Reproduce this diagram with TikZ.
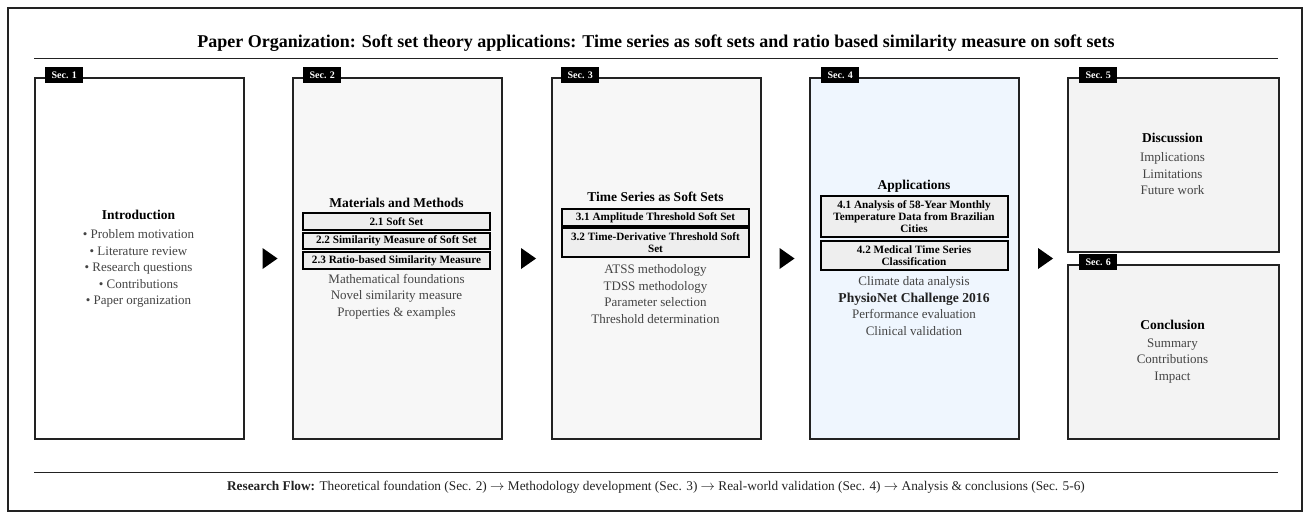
\documentclass[tikz,border=0pt]{standalone}
\usepackage{fontspec}
\setmainfont{Liberation Serif}
\usetikzlibrary{shapes.geometric}
\definecolor{framec}{HTML}{222222}
\definecolor{itemc}{HTML}{444444}
\definecolor{fillA}{HTML}{F7F7F7}
\definecolor{fillB}{HTML}{F3F3F3}
\definecolor{fillC}{HTML}{EFF6FE}
\definecolor{subfill}{HTML}{EEEEEE}
\tikzset{
  secbox/.style={draw=framec, line width=2pt, anchor=north west, minimum width=209pt, inner sep=0pt},
  sectag/.style={fill=black, text=white, font=\fontsize{10}{11}\selectfont\bfseries, minimum width=38pt, minimum height=16pt, inner sep=0pt, anchor=west},
  head/.style={font=\fontsize{13.5}{15}\selectfont\bfseries, inner sep=0pt},
  item/.style={font=\fontsize{13}{16.5}\selectfont, text=itemc, align=center, inner sep=0pt},
  subbox/.style={draw=black, line width=2pt, fill=subfill, minimum width=187pt, inner sep=0pt, align=center, font=\fontsize{11.2}{12}\selectfont\bfseries},
  tri/.style={isosceles triangle, fill=black, inner sep=0pt, minimum width=19pt, minimum height=15pt, isosceles triangle apex angle=70},
}
\begin{document}
\begin{tikzpicture}[x=1pt,y=-1pt]
\useasboundingbox (0,0) rectangle (1314,515);
\node[draw=framec, line width=2pt, anchor=north west, minimum width=1294pt, minimum height=503pt, inner sep=0pt] (frame) at (7,7) {};
\node[font=\fontsize{18}{20}\selectfont\bfseries] (title) at (656,43) {Paper Organization: Soft set theory applications: Time series as soft sets and ratio based similarity measure on soft sets};
\coordinate (tl1) at (34,58); \coordinate (tl2) at (1278,58);
\draw[framec, line width=1pt] (tl1) -- (tl2);

% boxes
\node[secbox, fill=white, minimum height=361pt] (s1) at (34,77) {};
\node[secbox, fill=fillA, minimum height=361pt] (s2) at (292,77) {};
\node[secbox, fill=fillA, minimum height=361pt] (s3) at (551,77) {};
\node[secbox, fill=fillC, minimum height=361pt] (s4) at (809,77) {};
\node[secbox, fill=fillB, minimum height=174pt, minimum width=211pt] (s5) at (1067,77) {};
\node[secbox, fill=fillB, minimum height=174pt, minimum width=211pt] (s6) at (1067,264) {};

% tags
\node[sectag] (t1) at (45,75) {Sec. 1};
\node[sectag] (t2) at (303,75) {Sec. 2};
\node[sectag] (t3) at (561,75) {Sec. 3};
\node[sectag] (t4) at (821,75) {Sec. 4};
\node[sectag] (t5) at (1079,75) {Sec. 5};
\node[sectag] (t6) at (1079,262) {Sec. 6};

% arrows
\node[tri] (a1) at (268,258.5) {};
\node[tri] (a2) at (526.5,258.5) {};
\node[tri] (a3) at (785,258.5) {};
\node[tri] (a4) at (1043.5,258.5) {};

% Sec 1
\node[head] (h1) at (138.5,215) {Introduction};
\node[item] (i1) at (138.5,268.5) {• Problem motivation\\• Literature review\\• Research questions\\• Contributions\\• Paper organization};

% Sec 2
\node[head] (h2) at (396.5,203) {Materials and Methods};
\node[subbox, minimum height=17pt] (b21) at (396.5,221.5) {2.1 Soft Set};
\node[subbox, minimum height=16pt] (b22) at (396.5,241) {2.2 Similarity Measure of Soft Set};
\node[subbox, minimum height=17pt] (b23) at (396.5,260.5) {2.3 Ratio-based Similarity Measure};
\node[item] (i2) at (396.5,296.5) {Mathematical foundations\\Novel similarity measure\\Properties \& examples};

% Sec 3
\node[head] (h3) at (655.5,197) {Time Series as Soft Sets};
\node[subbox, minimum height=17pt] (b31) at (655.5,217.5) {3.1 Amplitude Threshold Soft Set};
\node[subbox, minimum height=29pt] (b32) at (655.5,242.5) {3.2 Time-Derivative Threshold Soft\\Set};
\node[item] (i3) at (655.5,294) {ATSS methodology\\TDSS methodology\\Parameter selection\\Threshold determination};

% Sec 4
\node[head] (h4) at (914,186) {Applications};
\node[subbox, minimum height=41pt] (b41) at (914,216.5) {4.1 Analysis of 58-Year Monthly\\Temperature Data from Brazilian\\Cities};
\node[subbox, minimum height=29pt] (b42) at (914,255.5) {4.2 Medical Time Series\\Classification};
\node[item] (i4) at (914,306) {Climate data analysis\\{\fontsize{13.6}{16.5}\selectfont\bfseries\color{framec}PhysioNet Challenge 2016}\\Performance evaluation\\Clinical validation};

% Sec 5
\node[head] (h5) at (1172.5,138) {Discussion};
\node[item] (i5) at (1172.5,174) {Implications\\Limitations\\Future work};

% Sec 6
\node[head] (h6) at (1172.5,325) {Conclusion};
\node[item] (i6) at (1172.5,361) {Summary\\Contributions\\Impact};

% bottom
\coordinate (bl1) at (34,472); \coordinate (bl2) at (1278,472);
\draw[framec, line width=1pt] (bl1) -- (bl2);
\node[font=\fontsize{13.3}{15}\selectfont, text=framec] (flow) at (656,487) {\textbf{Research Flow:} Theoretical foundation (Sec. 2) $\rightarrow$ Methodology development (Sec. 3) $\rightarrow$ Real-world validation (Sec. 4) $\rightarrow$ Analysis \& conclusions (Sec. 5-6)};
\end{tikzpicture}
\end{document}
